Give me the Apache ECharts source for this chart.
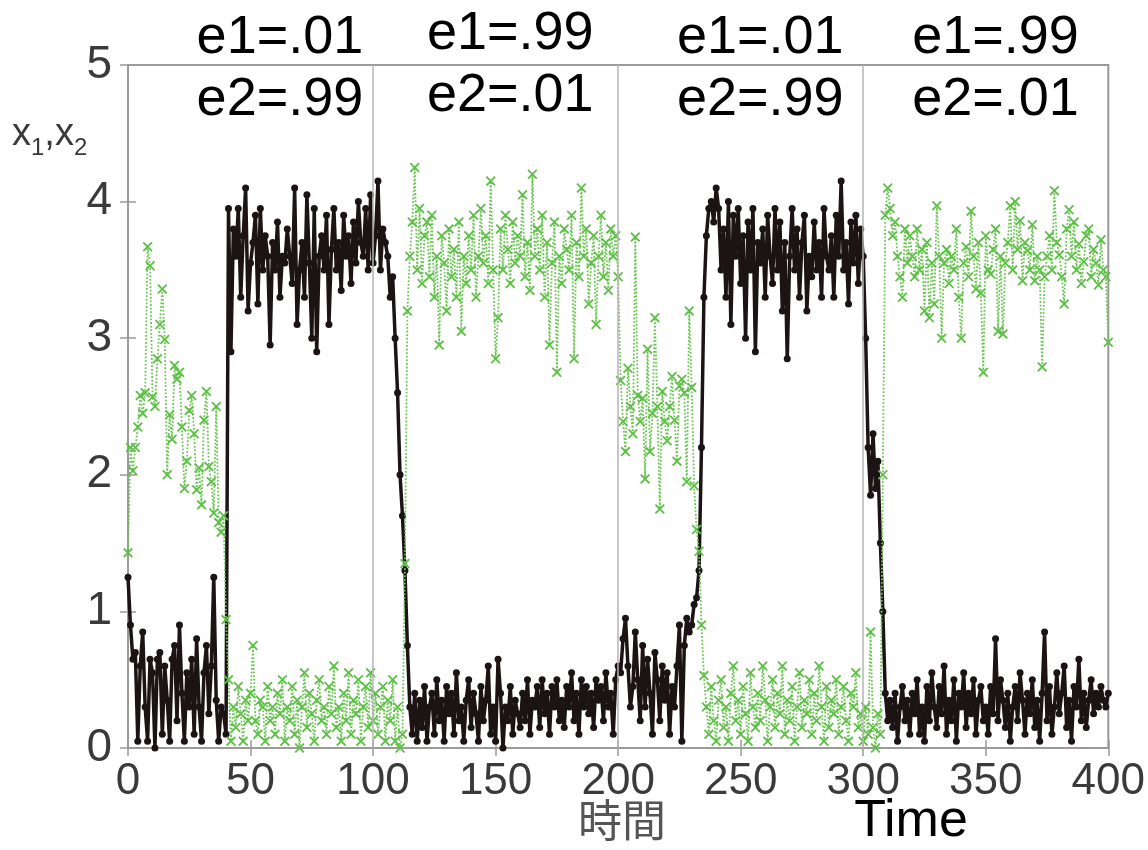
<!DOCTYPE html>
<html>
<head>
<meta charset="utf-8">
<script src="https://cdn.jsdelivr.net/npm/echarts@6/dist/echarts.min.js"></script>
<style>
  html, body { margin: 0; padding: 0; background: #ffffff; }
  #chart { width: 1148px; height: 850px; }
</style>
</head>
<body>
<div id="chart"></div>
<script>
// Sampling step of the time series (time units between points)
const TIME_STEP = 1;

// x1 (black, solid with dots), t = 0 .. 400 (10 values per line)
const x1 = [
  1.25,0.9,0.65,0.7,0.05,0.6,0.85,0.3,0.05,0.65,
  0.55,0.0,0.65,0.7,0.1,0.6,0.35,0.05,0.65,0.75,
  0.2,0.9,0.4,0.05,0.55,0.3,0.65,0.1,0.8,0.3,
  0.05,0.55,0.75,0.25,0.6,1.25,0.35,0.05,0.3,0.25,
  0.1,3.95,2.9,3.8,3.6,3.95,3.3,3.75,4.1,3.2,
  3.55,3.7,3.9,3.25,3.95,3.5,3.75,3.6,2.95,3.7,
  3.5,3.85,3.3,3.6,3.55,3.8,3.6,3.4,4.1,3.1,
  3.5,3.7,3.3,4.05,3.55,3.0,3.95,2.9,3.6,3.75,
  3.5,3.9,3.1,3.65,3.95,3.5,3.7,3.35,3.9,3.6,
  3.75,3.4,3.85,3.55,4.0,3.7,3.6,3.95,3.5,4.05,
  3.55,3.75,4.15,3.5,3.8,3.7,3.6,3.3,3.45,3.0,
  2.6,2.0,1.7,1.3,0.75,0.3,0.1,0.4,0.05,0.35,
  0.15,0.45,0.05,0.3,0.4,0.1,0.5,0.2,0.35,0.05,
  0.45,0.25,0.4,0.1,0.55,0.2,0.3,0.05,0.35,0.5,
  0.15,0.4,0.25,0.05,0.45,0.2,0.35,0.6,0.1,0.3,
  0.05,0.65,0.4,0.0,0.3,0.2,0.45,0.1,0.35,0.25,
  0.15,0.4,0.2,0.5,0.1,0.35,0.3,0.45,0.15,0.5,
  0.25,0.4,0.1,0.45,0.3,0.5,0.2,0.35,0.15,0.45,
  0.3,0.55,0.2,0.4,0.1,0.5,0.3,0.45,0.25,0.4,
  0.15,0.5,0.35,0.45,0.2,0.55,0.3,0.4,0.1,0.5,
  0.6,0.55,0.8,0.95,0.6,0.3,0.45,0.85,0.5,0.2,
  0.75,0.3,0.65,0.4,0.1,0.7,0.5,0.2,0.6,0.35,
  0.55,0.1,0.45,0.3,0.6,0.9,0.05,0.75,0.95,0.85,
  0.9,1.05,1.1,1.3,2.2,3.3,3.75,3.95,4.0,3.85,
  4.1,3.95,3.5,3.8,3.3,4.0,3.1,3.9,3.6,3.95,
  3.4,3.75,3.0,3.85,3.5,3.95,2.9,3.7,3.55,3.8,
  3.3,3.9,3.6,3.4,3.95,3.5,3.85,3.2,3.7,2.85,
  3.6,3.95,3.5,3.8,3.3,3.7,3.9,3.2,3.6,3.45,
  3.85,3.5,3.7,3.3,3.95,3.6,3.5,3.75,3.3,3.9,
  3.6,4.15,3.5,3.7,3.25,3.85,3.55,3.9,3.4,3.8,
  3.6,3.0,2.2,1.85,2.3,1.9,2.1,1.5,1.0,0.4,
  0.2,0.35,0.15,0.4,0.05,0.3,0.45,0.2,0.35,0.1,
  0.4,0.25,0.5,0.1,0.3,0.05,0.45,0.2,0.55,0.3,
  0.15,0.45,0.25,0.6,0.1,0.35,0.2,0.5,0.05,0.4,
  0.3,0.55,0.15,0.4,0.25,0.5,0.1,0.35,0.45,0.2,
  0.3,0.1,0.45,0.25,0.8,0.2,0.5,0.35,0.15,0.4,
  0.05,0.3,0.45,0.2,0.55,0.35,0.1,0.4,0.25,0.5,
  0.15,0.35,0.05,0.4,0.85,0.2,0.45,0.1,0.3,0.55,
  0.25,0.4,0.6,0.15,0.35,0.05,0.45,0.3,0.65,0.2,
  0.4,0.15,0.35,0.5,0.25,0.4,0.3,0.45,0.35,0.3,
  0.4
];

// x2 (green, dotted with crosses), t = 0 .. 400 (10 values per line)
const x2 = [
  1.43,2.2,2.03,2.2,2.35,2.58,2.45,2.6,3.67,3.53,
  2.57,2.5,2.85,3.1,3.36,2.99,2.0,2.44,2.26,2.8,
  2.7,2.75,2.35,1.9,2.1,2.47,2.58,2.3,1.89,2.05,
  1.78,2.4,2.61,2.06,1.95,1.72,2.5,1.65,1.58,1.7,
  0.94,0.5,0.05,0.3,0.15,0.45,0.25,0.05,0.35,0.2,
  0.4,0.75,0.2,0.1,0.35,0.3,0.05,0.45,0.2,0.3,
  0.1,0.4,0.25,0.5,0.05,0.3,0.2,0.45,0.1,0.35,
  0.0,0.3,0.55,0.15,0.4,0.25,0.05,0.35,0.5,0.2,
  0.3,0.1,0.45,0.25,0.6,0.15,0.3,0.05,0.4,0.2,
  0.55,0.1,0.35,0.25,0.5,0.05,0.3,0.45,0.15,0.55,
  0.2,0.4,0.1,0.3,0.45,0.05,0.35,0.2,0.5,0.05,
  0.3,0.0,0.1,1.35,3.2,3.6,3.85,4.25,3.5,3.95,
  3.4,3.75,3.85,3.45,3.9,3.3,3.6,2.95,3.75,3.55,
  3.2,3.8,3.45,3.65,3.3,3.85,3.05,3.6,3.4,3.75,
  3.5,3.9,3.3,3.6,3.95,3.55,3.75,3.4,4.15,3.5,
  2.85,3.15,3.8,3.5,3.9,3.65,3.4,3.85,3.55,3.75,
  3.6,4.05,3.45,3.7,3.35,4.2,3.6,3.8,3.5,3.9,
  3.3,3.7,2.95,3.55,3.85,2.75,3.6,3.4,3.8,3.65,
  3.5,3.9,2.85,3.7,3.45,4.1,3.6,3.8,3.25,3.55,
  3.75,3.1,3.6,3.9,3.45,3.7,3.35,3.8,3.6,3.75,
  3.45,2.69,2.39,2.17,2.78,2.5,2.3,3.74,2.58,2.39,
  2.56,1.97,2.92,2.17,2.45,3.15,2.5,1.75,2.61,2.39,
  2.25,2.5,2.72,2.4,2.1,2.65,2.7,2.6,1.95,3.2,
  2.64,1.92,1.6,1.44,0.9,0.53,0.3,0.1,0.45,0.2,
  0.05,0.35,0.5,0.15,0.3,0.05,0.4,0.6,0.2,0.35,
  0.1,0.45,0.25,0.05,0.55,0.3,0.15,0.4,0.2,0.6,
  0.35,0.05,0.3,0.5,0.15,0.4,0.25,0.6,0.1,0.35,
  0.2,0.45,0.05,0.3,0.55,0.15,0.35,0.25,0.5,0.1,
  0.4,0.2,0.6,0.3,0.05,0.45,0.15,0.35,0.25,0.5,
  0.1,0.3,0.45,0.2,0.05,0.4,0.3,0.55,0.15,0.25,
  0.05,0.3,0.1,0.85,0.15,0.0,0.25,0.1,2.0,3.9,
  4.1,3.95,3.75,3.85,3.6,3.45,3.3,3.8,3.55,3.75,
  3.6,3.45,3.8,3.5,3.65,3.2,3.7,3.15,3.55,3.25,
  3.97,3.6,3.0,3.55,3.65,3.4,3.6,3.5,3.8,3.3,
  3.0,3.55,3.67,3.45,3.93,3.6,3.36,3.7,3.33,2.75,
  3.75,3.5,3.47,3.65,3.8,3.05,3.6,3.03,3.55,3.7,
  3.97,3.5,4.0,3.65,3.86,3.42,3.7,3.64,3.5,3.83,
  3.42,3.6,3.5,2.79,3.45,3.6,3.75,3.5,4.08,3.7,
  3.61,3.45,3.25,3.8,3.94,3.6,3.85,3.5,3.69,3.4,
  3.56,3.75,3.8,3.45,3.65,3.55,3.39,3.72,3.5,3.45,
  2.97
];

// Regime annotations above the plot
const regimeE1 = ['e1=.01', 'e1=.99', 'e1=.01', 'e1=.99'];
const regimeE2 = ['e2=.99', 'e2=.01', 'e2=.99', 'e2=.01'];
const regimeCenters = [62, 156, 258, 354];   // time at which each label block is centred
const dividers = [100, 200, 300];

const xTitle = '時間';
const xTitleEn = 'Time';

const toPairs = arr => arr.map((v, i) => [i * TIME_STEP, v]);

const chart = echarts.init(document.getElementById('chart'), null, { renderer: 'canvas' });

const G = { left: 128, right: 38, top: 65, bottom: 102 };
const axisGray = '#9a9a9a';
const labelFont = '"Liberation Sans", Arial, sans-serif';

const crossPath = 'path://M0,1.3L1.3,0L5,3.7L8.7,0L10,1.3L6.3,5L10,8.7L8.7,10L5,6.3L1.3,10L0,8.7L3.7,5Z';

const tickStyle = { show: true, inside: true, length: 8, lineStyle: { color: axisGray, width: 1.5 } };
const lineStyleAxis = { show: true, lineStyle: { color: axisGray, width: 2 } };

const option = {
  animation: false,
  backgroundColor: '#ffffff',
  grid: Object.assign({ show: true, borderColor: axisGray, borderWidth: 2, backgroundColor: 'transparent', containLabel: false }, G),
  xAxis: [
    {
      type: 'value', min: 0, max: 400, interval: 50, position: 'bottom',
      axisLine: lineStyleAxis, axisTick: tickStyle,
      axisLabel: { show: true, margin: 12, fontSize: 44, color: '#3a3a3a', fontFamily: labelFont },
      splitLine: { show: false }
    },
    {
      type: 'value', min: 0, max: 400, interval: 50, position: 'top',
      axisLine: lineStyleAxis, axisTick: tickStyle,
      axisLabel: { show: false }, splitLine: { show: false }
    }
  ],
  yAxis: [
    {
      type: 'value', min: 0, max: 5, interval: 1, position: 'left',
      axisLine: lineStyleAxis, axisTick: tickStyle,
      axisLabel: { show: true, margin: 16, fontSize: 46, color: '#3a3a3a', fontFamily: labelFont },
      splitLine: { show: false }
    },
    {
      type: 'value', min: 0, max: 5, interval: 1, position: 'right',
      axisLine: lineStyleAxis, axisTick: tickStyle,
      axisLabel: { show: false }, splitLine: { show: false }
    }
  ],
  series: [
    {
      name: 'dividers', type: 'line', data: [], z: 1, silent: true,
      markLine: {
        silent: true, symbol: ['none', 'none'], label: { show: false },
        lineStyle: { color: '#b4b4b4', width: 1.5, type: 'solid' },
        data: dividers.map(d => ({ xAxis: d }))
      }
    },
    {
      name: 'x1', type: 'line', data: toPairs(x1), z: 3,
      showSymbol: true, showAllSymbol: true, symbol: 'circle', symbolSize: 7,
      lineStyle: { color: '#1c1414', width: 3.5 },
      itemStyle: { color: '#1c1414' }
    },
    {
      name: 'x2', type: 'line', data: toPairs(x2), z: 4,
      showSymbol: true, showAllSymbol: true, symbol: crossPath, symbolSize: 10,
      lineStyle: { color: '#6cc655', width: 1.8, type: 'dotted' },
      itemStyle: { color: '#5fbf48' }
    }
  ]
};

chart.setOption(option);

// annotation texts, horizontally positioned via the axis scale
const e1Y = [38, 34, 38, 38];
const e2Y = [100, 96, 100, 100];
const gr = [];
regimeCenters.forEach((t, i) => {
  const px = chart.convertToPixel({ xAxisIndex: 0 }, t);
  gr.push({ type: 'text', x: px, y: e1Y[i],
    style: { text: regimeE1[i], font: '54px "Liberation Sans", Arial, sans-serif', fill: '#000', align: 'center', verticalAlign: 'middle' } });
  gr.push({ type: 'text', x: px, y: e2Y[i],
    style: { text: regimeE2[i], font: '54px "Liberation Sans", Arial, sans-serif', fill: '#000', align: 'center', verticalAlign: 'middle' } });
});
// y-axis title x1,x2 with subscripts
gr.push({ type: 'text', x: 12, y: 134,
  style: {
    text: '{x|x}{s|1}{x|,x}{s|2}',
    rich: {
      x: { fontSize: 38, fontFamily: 'Liberation Sans', fill: '#3a3a3a', verticalAlign: 'bottom', lineHeight: 40 },
      s: { fontSize: 24, fontFamily: 'Liberation Sans', fill: '#3a3a3a', verticalAlign: 'bottom', lineHeight: 40, padding: [0, 0, -6, 0] }
    },
    align: 'left', verticalAlign: 'middle'
  } });
gr.push({ type: 'text', x: 622, y: 820,
  style: { text: xTitle, font: '44px "Noto Sans CJK JP", sans-serif', fill: '#555', align: 'center', verticalAlign: 'middle' } });
gr.push({ type: 'text', x: 911, y: 822,
  style: { text: xTitleEn, font: '52px "Liberation Sans", Arial, sans-serif', fill: '#000', align: 'center', verticalAlign: 'middle' } });
chart.setOption({ graphic: gr });
</script>
</body>
</html>
